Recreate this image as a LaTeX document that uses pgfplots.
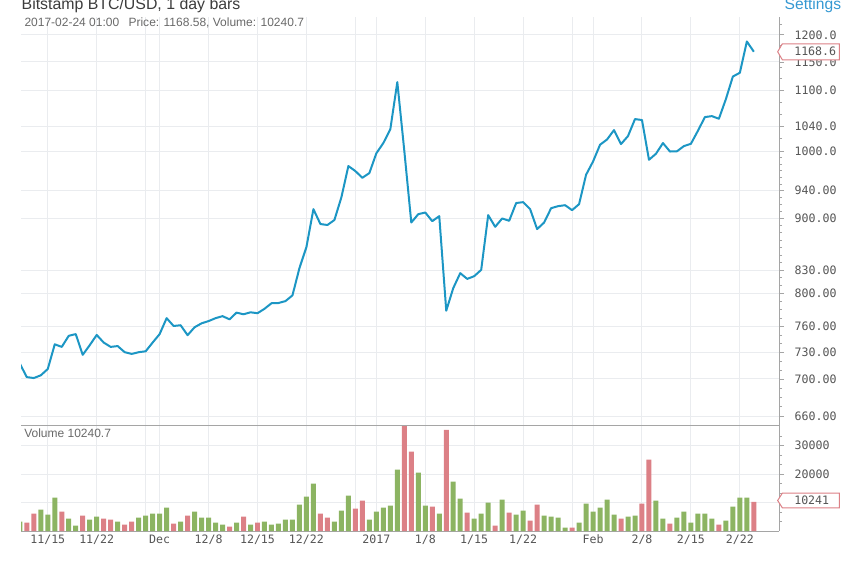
\documentclass[border=0pt]{standalone}
\usepackage{pgfplots}
\pgfplotsset{compat=1.18}
\usepackage{pgfplotstable}
\usepackage{fontspec}
\setmainfont{Liberation Sans}
\setmonofont{DejaVu Sans Mono}
\definecolor{linec}{RGB}{28,150,196}
\definecolor{upc}{RGB}{140,180,98}
\definecolor{dnc}{RGB}{220,128,134}
\definecolor{gridc}{RGB}{234,236,239}
\definecolor{axc}{RGB}{165,165,165}
\definecolor{txtc}{RGB}{85,85,85}
\definecolor{titc}{RGB}{60,60,60}
\definecolor{subc}{RGB}{105,105,105}
\definecolor{setc}{RGB}{52,152,210}
\newcommand{\monof}{\fontsize{8.7}{10}\selectfont\ttfamily}

\pgfplotstableread{
k p
-1 717
0 702
1 701
2 704
3 711
4 739
5 736
6 749
7 751
8 727
9 738
10 750
11 741
12 736
13 737
14 730
15 728
16 730
17 731
18 741
19 751
20 770
21 760.6
22 761.4
23 749.7
24 759.1
25 763.8
26 766.4
27 770.0
28 772.4
29 768.6
30 776.6
31 774.7
32 777.1
33 775.9
34 781.4
35 788.2
36 788.4
37 790.8
38 797.9
39 832.7
40 860.6
41 913.2
42 892.2
43 890.8
44 897.8
45 930.3
46 977.0
47 969.3
48 959.2
49 966.3
50 996.7
51 1012.8
52 1034.9
53 1114.3
54 1000.6
55 894.3
56 906.1
57 908.4
58 896.2
59 903.3
60 779.1
61 806.9
62 826.1
63 818.7
64 822.2
65 830.4
66 904.7
67 888.3
68 900.0
69 896.7
70 922.0
71 923.3
72 913.2
73 885.1
74 894.3
75 914.6
76 917.5
77 918.9
78 911.8
79 920.4
80 963.7
81 984.0
82 1010.1
83 1018.5
84 1033.6
85 1011.2
86 1024.0
87 1051.6
88 1050.0
89 986.6
90 996.0
91 1012.8
92 999.5
93 999.8
94 1008.0
95 1011.7
96 1032.5
97 1054.9
98 1056.5
99 1052.1
100 1085.0
101 1124.1
102 1130.7
103 1187.5
104 1168.58
}\pricetab

\pgfplotstableread{
k v
-1 3300
2 7544
3 5789
4 11754
6 4386
7 1930
9 4035
10 5088
13 3333
16 4737
17 5439
18 6140
19 6140
20 8246
22 3333
24 6842
25 4737
26 4737
27 2982
28 2281
30 2982
32 2281
34 3333
35 2281
36 2632
37 4035
38 4035
39 9298
40 12105
41 16667
44 3333
45 7193
46 12456
49 4035
50 6842
51 8246
52 8947
53 21579
56 20526
57 8947
59 6140
61 17368
62 11404
64 4386
65 6140
66 10000
68 11053
70 5789
71 7193
74 5439
75 5088
76 4737
77 1228
79 2982
80 9649
81 6842
82 8246
83 11053
84 5789
86 5088
87 5439
90 10702
91 4386
93 4737
94 6842
95 2982
96 6140
97 6140
98 4386
100 3684
101 8596
102 11754
103 11754
}\uptab

\pgfplotstableread{
k v
0 2982
1 6140
5 6842
8 5439
11 4386
12 4035
14 2281
15 3333
21 2632
23 5439
29 1579
31 5088
33 2982
42 6140
43 4737
47 7895
48 10702
54 38000
55 27895
58 8596
60 35500
63 6491
67 1930
69 6491
72 3684
73 9298
78 1228
85 4386
88 9649
89 25088
92 2632
99 2281
104 10240.7
}\dntab

\pgfplotsset{
  paneaxis/.style={
    scale only axis,
    width=568.5pt,
    xmin=-0.83, xmax=107.6,
    axis y line*=right,
    axis x line*=bottom,
    axis line style={draw=axc, line width=0.75pt},
    xtick={3,10,17,19,26,33,40,47,50,57,64,71,78,81,88,95,102},
    xtick style={draw=none},
    ytick style={draw=axc, line width=0.6pt},
    minor tick style={draw=axc, line width=0.5pt},
    tick align=outside,
    major tick length=3.75pt,
    minor tick length=2.25pt,
    xmajorgrids, ymajorgrids,
    major grid style={draw=gridc, line width=0.75pt},
    yticklabel style={font=\monof, text=txtc, anchor=west, inner sep=0pt, xshift=7.8pt},
    xticklabel style={font=\monof, text=txtc, yshift=4.5pt},
  }
}

\begin{document}
\begin{tikzpicture}
\useasboundingbox (0,0) rectangle (644.25pt,421.5pt);

\begin{axis}[paneaxis,
  at={(15.75pt,102pt)}, anchor=south west,
  height=306.75pt,
  ymode=log, ymin=650.3, ymax=1234,
  xticklabels={},
  ytick={660,700,730,760,800,830,900,940,1000,1040,1100,1150,1200},
  yticklabels={660.00,700.00,730.00,760.00,800.00,830.00,900.00,940.00,1000.0,1040.0,1100.0,1150.0,1200.0},
  minor ytick={670,680,690,710,720,740,750,770,780,790,810,820,840,850,860,870,880,890,910,920,930,950,960,970,980,990,1020,1060,1080,1120,1140,1160,1180,1220},
]
\addplot[linec, line width=1.5pt, line join=round, mark=none] table[x=k,y=p] {\pricetab};
\coordinate (pflag) at (axis cs:107.6,1168.58);
\end{axis}

\begin{axis}[paneaxis,
  at={(15.75pt,23.25pt)}, anchor=south west,
  height=78.75pt,
  ymin=0, ymax=36850,
  scaled y ticks=false,
  ytick={10000,20000,30000},
  yticklabels={10000,20000,30000},
  minor ytick={3333,6667,13333,16667,23333,26667,33333},
  xticklabels={11/15,11/22,,Dec,12/8,12/15,12/22,,2017,1/8,1/15,1/22,,Feb,2/8,2/15,2/22},
]
\addplot[ybar, bar width=0.715, bar shift=0pt, fill=upc, draw=none] table[x=k,y=v] {\uptab};
\addplot[ybar, bar width=0.715, bar shift=0pt, fill=dnc, draw=none] table[x=k,y=v] {\dntab};
\coordinate (vflag) at (axis cs:107.6,10240.7);
\end{axis}

% price flag
\draw[dnc, line width=0.75pt, fill=white, shift={(pflag)}]
  (-1pt,0pt) -- (2.5pt,6pt) -- (45.2pt,6pt) -- (45.2pt,-6pt) -- (2.5pt,-6pt) -- cycle;
\node[anchor=west, inner sep=0pt, font=\monof, text=txtc] at ([xshift=11.25pt]pflag) {1168.6};
% volume flag
\draw[dnc, line width=0.75pt, fill=white, shift={(vflag)}]
  (-1pt,1pt) -- (2.5pt,6.5pt) -- (45.2pt,6.5pt) -- (45.2pt,-4.5pt) -- (2.5pt,-4.5pt) -- cycle;
\node[anchor=west, inner sep=0pt, font=\monof, text=txtc] at ([xshift=11.25pt,yshift=1pt]vflag) {10241};

% titles
\node[anchor=base west, inner sep=0pt, font=\fontsize{11.9}{13}\selectfont, text=titc] at (16.1pt,414pt) {Bitstamp BTC/USD, 1 day bars};
\node[anchor=base west, inner sep=0pt, font=\fontsize{9}{10}\selectfont, text=subc] at (18.2pt,401.8pt) {2017-02-24 01:00\hspace{7pt}Price: 1168.58, Volume: 10240.7};
\node[anchor=base east, inner sep=0pt, font=\fontsize{11.7}{13}\selectfont, text=setc] at (631pt,414pt) {Settings};
\node[anchor=base west, inner sep=0pt, font=\fontsize{9}{11}\selectfont, text=subc] at (18pt,93.75pt) {Volume 10240.7};
\end{tikzpicture}
\end{document}
